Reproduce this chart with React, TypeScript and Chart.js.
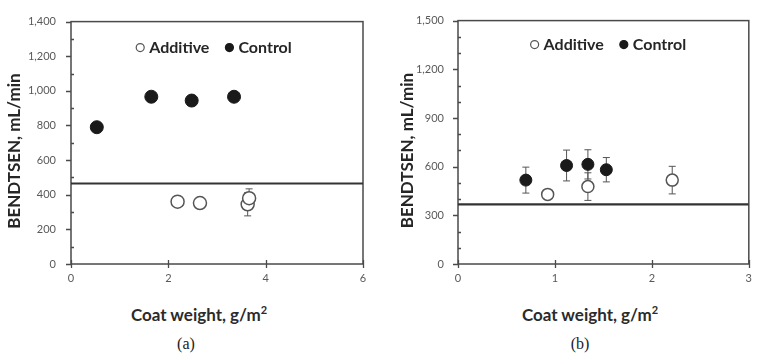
import React, { useEffect, useRef } from "react";
import { Chart, registerables } from "chart.js";

Chart.register(...registerables);

// ---------- Panel (a) ----------
const aAdditiveX = [2.19, 2.65, 3.63, 3.66];
const aAdditiveY = [360, 352, 345, 380];
const aAdditiveErr = [0, 0, 67, 54];
const aControlX = [0.53, 1.65, 2.48, 3.35];
const aControlY = [790, 966, 944, 966];
const aControlErr = [0, 0, 0, 0];
const aBaseline = 465;
const aXRange = [0, 6];
const aYRange = [0, 1400];
const aXStep = 2;
const aYStep = 200;
const aYMinor = 100;

// ---------- Panel (b) ----------
const bAdditiveX = [0.925, 1.34, 2.21];
const bAdditiveY = [429, 477, 517];
const bAdditiveErr = [0, 85, 85];
const bControlX = [0.7, 1.12, 1.34, 1.53];
const bControlY = [517, 607, 614, 581];
const bControlErr = [80, 95, 90, 75];
const bBaseline = 368;
const bXRange = [0, 3];
const bYRange = [0, 1500];
const bXStep = 1;
const bYStep = 300;
const bYMinor = 100;

const seriesLabels = ["Additive", "Control"];
const yTitle = "BENDTSEN, mL/min";
const xTitle = "Coat weight, g/m";
const panelLabels = ["(a)", "(b)"];

const FONT = "Lato, 'Open Sans', 'DejaVu Sans', sans-serif";

const errorBarPlugin = {
  id: "errorBars",
  beforeDatasetsDraw(chart: any) {
    const { ctx } = chart;
    const xs = chart.scales.x;
    const ys = chart.scales.y;
    ctx.save();
    ctx.strokeStyle = "#555";
    ctx.lineWidth = 1;
    chart.data.datasets.forEach((ds: any) => {
      if (!ds.errors) return;
      ds.data.forEach((p: any, i: number) => {
        const e = ds.errors[i];
        if (!e) return;
        const px = xs.getPixelForValue(p.x);
        const y1 = ys.getPixelForValue(p.y + e);
        const y2 = ys.getPixelForValue(p.y - e);
        ctx.beginPath();
        ctx.moveTo(px, y1);
        ctx.lineTo(px, y2);
        ctx.moveTo(px - 3.5, y1);
        ctx.lineTo(px + 3.5, y1);
        ctx.moveTo(px - 3.5, y2);
        ctx.lineTo(px + 3.5, y2);
        ctx.stroke();
      });
    });
    ctx.restore();
  },
};

const frameTicksPlugin = {
  id: "frameTicks",
  beforeDatasetsDraw(chart: any, _args: any, opts: any) {
    const { ctx, chartArea } = chart;
    const { left, right, top, bottom } = chartArea;
    const xs = chart.scales.x;
    const ys = chart.scales.y;
    ctx.save();
    ctx.strokeStyle = "#4a4a4a";
    ctx.lineWidth = 1.5;
    ctx.strokeRect(left, top, right - left, bottom - top);
    ctx.lineWidth = 1.3;
    ctx.beginPath();
    ys.ticks.forEach((t: any) => {
      const py = Math.round(ys.getPixelForValue(t.value)) + 0.5;
      ctx.moveTo(left - 5, py);
      ctx.lineTo(left, py);
    });
    const minor = opts.yMinor;
    for (let v = ys.min; v <= ys.max; v += minor) {
      if (Math.abs(v % ys.options.ticks.stepSize) < 1e-6) continue;
      const py = Math.round(ys.getPixelForValue(v)) + 0.5;
      ctx.moveTo(left, py);
      ctx.lineTo(left + 3, py);
    }
    xs.ticks.forEach((t: any) => {
      const px = Math.round(xs.getPixelForValue(t.value)) + 0.5;
      ctx.moveTo(px, bottom - 4);
      ctx.lineTo(px, bottom + 4);
    });
    ctx.stroke();
    ctx.restore();
  },
};

const inlineLegendPlugin = {
  id: "inlineLegend",
  afterDatasetsDraw(chart: any, _args: any, opts: any) {
    const { ctx, chartArea } = chart;
    const items = chart.data.datasets.filter((d: any) => d.inLegend);
    ctx.save();
    ctx.font = `bold ${opts.fontSize}px ${FONT}`;
    const r = opts.radius;
    const gapMarker = 5;
    const gapItems = 16;
    const widths = items.map((d: any) => ctx.measureText(d.label).width);
    let total = 0;
    items.forEach((_d: any, i: number) => {
      total += 2 * r + gapMarker + widths[i];
      if (i < items.length - 1) total += gapItems;
    });
    const cx = (chartArea.left + chartArea.right) / 2 + opts.offsetX;
    let x = cx - total / 2;
    const y = chartArea.top + opts.offsetY;
    ctx.textBaseline = "middle";
    ctx.textAlign = "left";
    items.forEach((d: any, i: number) => {
      ctx.beginPath();
      ctx.arc(x + r, y, r, 0, Math.PI * 2);
      ctx.fillStyle = d.backgroundColor;
      ctx.fill();
      ctx.lineWidth = 1.2;
      ctx.strokeStyle = d.borderColor;
      ctx.stroke();
      x += 2 * r + gapMarker;
      ctx.fillStyle = "#262626";
      ctx.fillText(d.label, x, y + 0.5);
      x += widths[i] + gapItems;
    });
    ctx.restore();
  },
};

type PanelCfg = {
  left: number;
  addX: number[];
  addY: number[];
  addErr: number[];
  ctlX: number[];
  ctlY: number[];
  ctlErr: number[];
  baseline: number;
  xRange: number[];
  yRange: number[];
  xStep: number;
  yStep: number;
  yMinor: number;
  yAxisWidth: number;
  padRight: number;
  yTickPad: number;
  yTitlePad: number;
  radius: number;
  legendRadius: number;
  legendOffsetX: number;
  legendOffsetY: number;
};

function Panel({ cfg }: { cfg: PanelCfg }) {
  const ref = useRef<HTMLCanvasElement>(null);
  useEffect(() => {
    const chart = new Chart(ref.current as HTMLCanvasElement, {
      type: "scatter",
      data: {
        datasets: [
          {
            label: "baseline",
            type: "line",
            data: [
              { x: cfg.xRange[0], y: cfg.baseline },
              { x: cfg.xRange[1], y: cfg.baseline },
            ],
            borderColor: "#333333",
            borderWidth: 2.2,
            pointRadius: 0,
            showLine: true,
            order: 3,
          } as any,
          {
            label: seriesLabels[0],
            data: cfg.addX.map((x, i) => ({ x, y: cfg.addY[i] })),
            errors: cfg.addErr,
            inLegend: true,
            backgroundColor: "#ffffff",
            borderColor: "#555555",
            borderWidth: 1.5,
            pointRadius: cfg.radius,
            order: 2,
          } as any,
          {
            label: seriesLabels[1],
            data: cfg.ctlX.map((x, i) => ({ x, y: cfg.ctlY[i] })),
            errors: cfg.ctlErr,
            inLegend: true,
            backgroundColor: "#1a1a1a",
            borderColor: "#1a1a1a",
            borderWidth: 1,
            pointRadius: cfg.radius,
            order: 1,
          } as any,
        ],
      },
      options: {
        responsive: false,
        animation: false,
        layout: { padding: { left: 0, right: cfg.padRight, top: 9, bottom: 0 } },
        plugins: {
          legend: { display: false },
          tooltip: { enabled: false },
          inlineLegend: {
            fontSize: 16,
            radius: cfg.legendRadius,
            offsetX: cfg.legendOffsetX,
            offsetY: cfg.legendOffsetY,
          },
          frameTicks: { yMinor: cfg.yMinor },
        } as any,
        scales: {
          x: {
            type: "linear",
            min: cfg.xRange[0],
            max: cfg.xRange[1],
            ticks: {
              stepSize: cfg.xStep,
              padding: 8,
              color: "#595959",
              font: { family: FONT, size: 11 },
            },
            grid: { display: false, drawTicks: false },
            border: { display: false },
            afterFit: (s: any) => {
              s.height = 290 - 264;
            },
          },
          y: {
            type: "linear",
            min: cfg.yRange[0],
            max: cfg.yRange[1],
            ticks: {
              stepSize: cfg.yStep,
              padding: cfg.yTickPad,
              color: "#595959",
              font: { family: FONT, size: 11 },
            },
            grid: { display: false, drawTicks: false },
            border: { display: false },
            title: {
              display: true,
              text: yTitle + "    ",
              color: "#262626",
              font: { family: FONT, size: 17, weight: "bold" },
              padding: { top: cfg.yTitlePad, bottom: 0 },
            },
            afterFit: (s: any) => {
              s.width = cfg.yAxisWidth;
            },
          },
        },
      },
      plugins: [errorBarPlugin, frameTicksPlugin, inlineLegendPlugin],
    });
    return () => chart.destroy();
  }, []);
  return (
    <canvas
      ref={ref}
      width={380}
      height={290}
      style={{ position: "absolute", left: cfg.left, top: 0, width: 380, height: 290 }}
    />
  );
}

const panels: PanelCfg[] = [
  {
    left: 0,
    addX: aAdditiveX,
    addY: aAdditiveY,
    addErr: aAdditiveErr,
    ctlX: aControlX,
    ctlY: aControlY,
    ctlErr: aControlErr,
    baseline: aBaseline,
    xRange: aXRange,
    yRange: aYRange,
    xStep: aXStep,
    yStep: aYStep,
    yMinor: aYMinor,
    yAxisWidth: 71,
    padRight: 17,
    yTickPad: 15,
    yTitlePad: 4,
    radius: 6.5,
    legendRadius: 4,
    legendOffsetX: -3,
    legendOffsetY: 26,
  },
  {
    left: 380,
    addX: bAdditiveX,
    addY: bAdditiveY,
    addErr: bAdditiveErr,
    ctlX: bControlX,
    ctlY: bControlY,
    ctlErr: bControlErr,
    baseline: bBaseline,
    xRange: bXRange,
    yRange: bYRange,
    xStep: bXStep,
    yStep: bYStep,
    yMinor: bYMinor,
    yAxisWidth: 78,
    padRight: 11,
    yTickPad: 14,
    yTitlePad: 17,
    radius: 6,
    legendRadius: 4,
    legendOffsetX: 5,
    legendOffsetY: 24,
  },
];

const xTitleCenters = [199, 590];
const panelLabelCenters = [186, 580];

export default function App() {
  return (
    <div
      style={{
        position: "fixed",
        left: 0,
        top: 0,
        width: 760,
        height: 360,
        background: "#ffffff",
        overflow: "hidden",
      }}
    >
      {panels.map((p, i) => (
        <Panel key={i} cfg={p} />
      ))}
      {xTitleCenters.map((cx, i) => (
        <div
          key={"xt" + i}
          style={{
            position: "absolute",
            left: cx - 110,
            width: 220,
            top: 304,
            textAlign: "center",
            fontFamily: FONT,
            fontWeight: "bold",
            fontSize: 17,
            color: "#2b2b2b",
            lineHeight: "22px",
            whiteSpace: "nowrap",
          }}
        >
          {xTitle}
          <sup style={{ fontSize: 11, lineHeight: 0 }}>2</sup>
        </div>
      ))}
      {panelLabelCenters.map((cx, i) => (
        <div
          key={"pl" + i}
          style={{
            position: "absolute",
            left: cx - 30,
            width: 60,
            top: 334,
            textAlign: "center",
            fontFamily: "'Liberation Serif', 'DejaVu Serif', serif",
            fontSize: 16,
            color: "#222",
            lineHeight: "20px",
          }}
        >
          {panelLabels[i]}
        </div>
      ))}
    </div>
  );
}
